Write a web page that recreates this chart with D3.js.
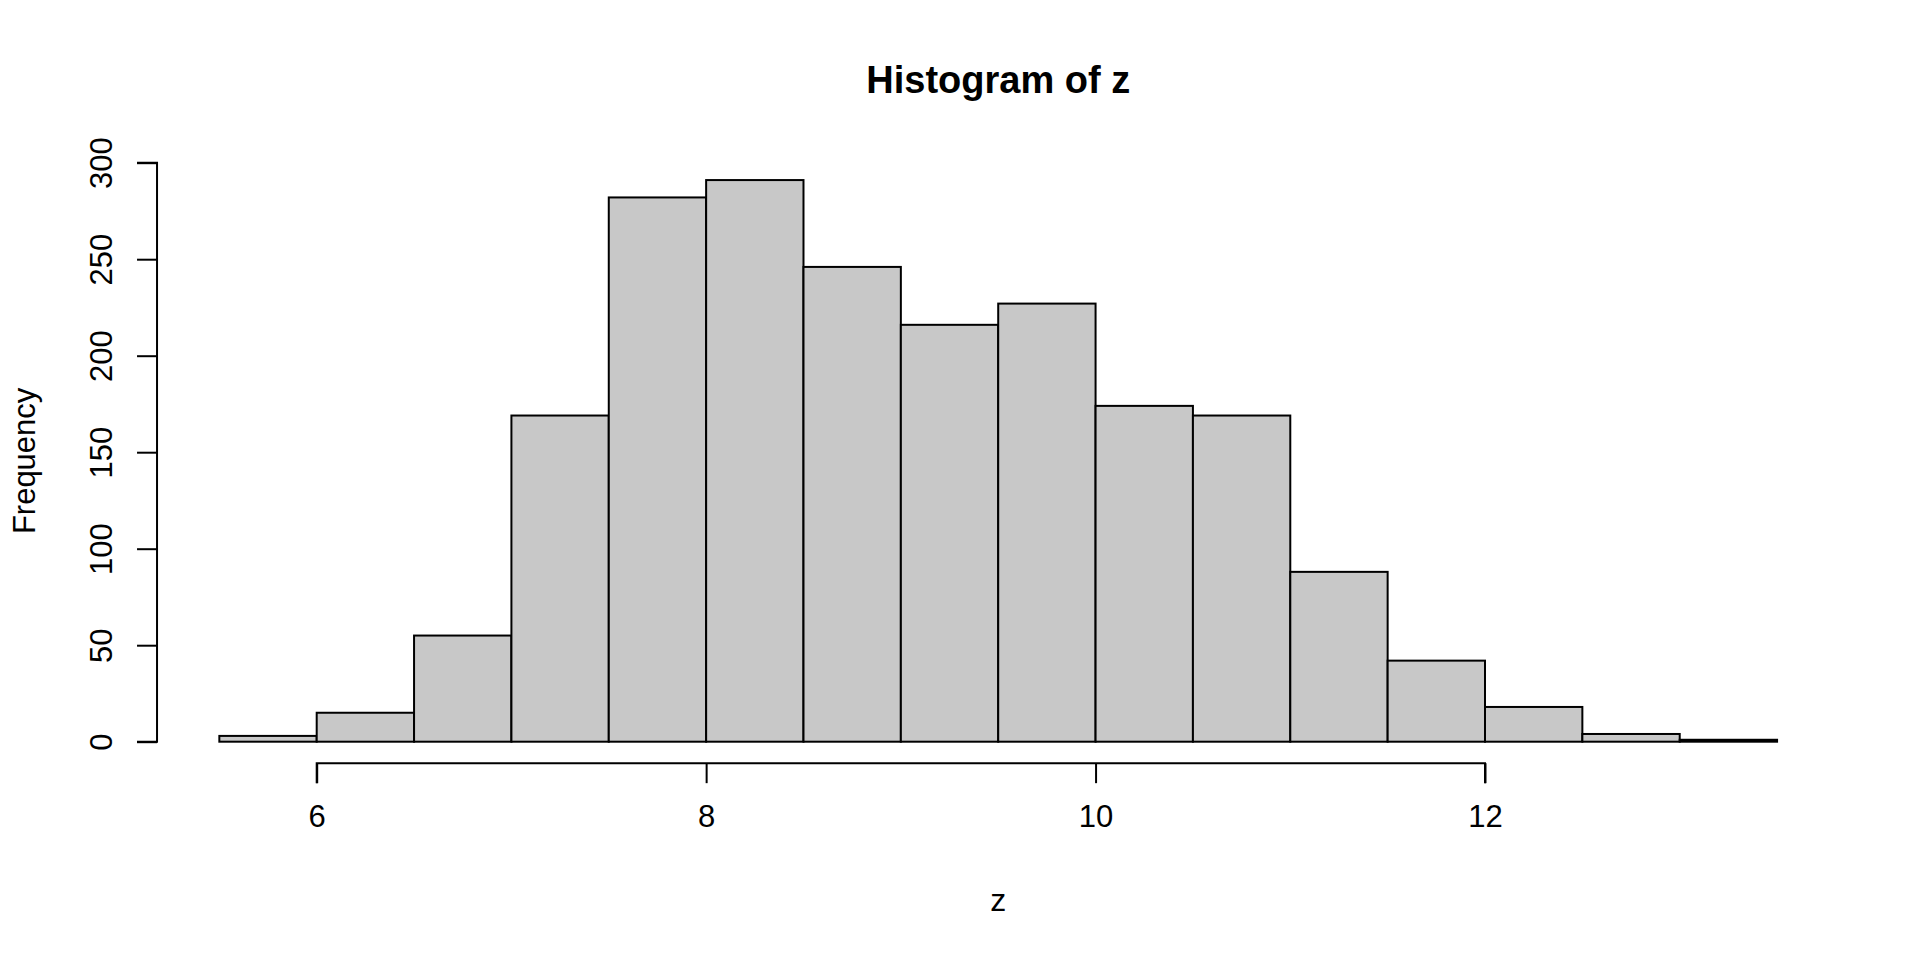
<!DOCTYPE html>
<html>
<head>
<meta charset="utf-8">
<script src="https://cdn.jsdelivr.net/npm/d3@7"></script>
<style>
  body { margin: 0; background: #fff; }
  svg { display: block; font-family: "Liberation Sans", Arial, sans-serif; }
</style>
</head>
<body>
<svg id="chart" width="1920" height="960"></svg>
<script>
// histogram bins (left edges) and counts
var binStarts = [5.5, 6, 6.5, 7, 7.5, 8, 8.5, 9, 9.5, 10, 10.5, 11, 11.5, 12, 12.5, 13];
var counts = [3, 15, 55, 169, 282, 291, 246, 216, 227, 174, 169, 88, 42, 18, 4, 1];
var binWidth = 0.5;
var xTicks = [6, 8, 10, 12];
var yTicks = [0, 50, 100, 150, 200, 250, 300];

var svg = d3.select('#chart');

// plot region, R style: 4% padding round the data range
var x = d3.scaleLinear().domain([6, 12]).range([316.7, 1485]);
var y = d3.scaleLinear().domain([0, 300]).range([741.7, 162.7]);

var plotLeft = x(5.5 - 0.04 * 8);
var plotRight = x(13.5 + 0.04 * 8);
var plotBottom = y(-0.04 * 291);
var plotTop = y(291 * 1.04);
var cx = (plotLeft + plotRight) / 2;
var cy = (plotTop + plotBottom) / 2;

// bars
svg.append('g')
    .selectAll('rect')
    .data(binStarts)
    .enter()
    .append('rect')
    .attr('x', d => x(d))
    .attr('width', d => x(d + binWidth) - x(d))
    .attr('y', (d, i) => y(counts[i]))
    .attr('height', (d, i) => y(0) - y(counts[i]))
    .attr('fill', '#c8c8c8')
    .attr('stroke', '#000')
    .attr('stroke-width', 2);

// x axis
var xAxis = d3.axisBottom(x)
    .tickValues(xTicks)
    .tickFormat(d3.format('d'))
    .tickSize(20)
    .tickPadding(22)
    .tickSizeOuter(0);

var gx = svg.append('g')
    .attr('transform', `translate(0, ${plotBottom - 1})`)
    .call(xAxis);
gx.select('.domain').attr('d', `M${x(6)},20V0H${x(12)}V20`);

// y axis
var yAxis = d3.axisLeft(y)
    .tickValues(yTicks)
    .tickSize(20)
    .tickSizeOuter(0);

var gy = svg.append('g')
    .attr('transform', `translate(${plotLeft}, 0)`)
    .call(yAxis);
gy.select('.domain').attr('d', `M-20,${y(0)}H0V${y(300)}H-20`);
gy.selectAll('.tick text')
    .attr('transform', 'rotate(-90)')
    .attr('x', 0)
    .attr('y', -45)
    .attr('dy', 0)
    .attr('text-anchor', 'middle');

svg.selectAll('.domain, .tick line')
    .attr('stroke', '#000')
    .attr('stroke-width', 2);
svg.selectAll('.tick text')
    .attr('fill', '#000')
    .style('font-size', '31px')
    .style('font-family', '"Liberation Sans", Arial, sans-serif');

// title and axis labels
svg.append('text')
    .attr('x', cx)
    .attr('y', 93)
    .attr('text-anchor', 'middle')
    .style('font-size', '38px')
    .style('font-weight', 'bold')
    .text('Histogram of z');

svg.append('text')
    .attr('x', cx)
    .attr('y', 911)
    .attr('text-anchor', 'middle')
    .style('font-size', '32px')
    .text('z');

svg.append('text')
    .attr('transform', `translate(35, ${cy}) rotate(-90)`)
    .attr('text-anchor', 'middle')
    .style('font-size', '31px')
    .text('Frequency');
</script>
</body>
</html>
